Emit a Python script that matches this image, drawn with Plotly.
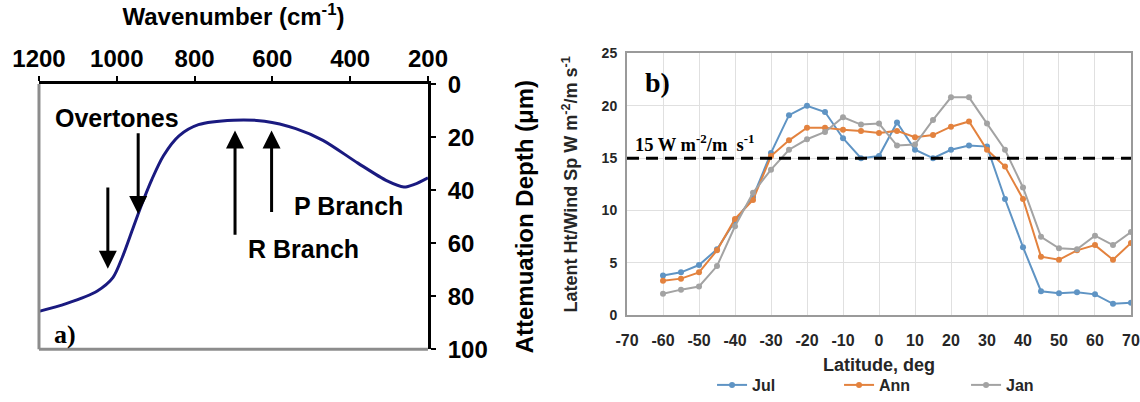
import plotly.graph_objects as go

# ---------- Panel a data ----------
wavenumber = [1200, 1130, 1050, 1010, 985, 960, 935, 910, 880, 840, 790, 700, 620, 540, 470, 380, 305, 262, 235, 200]
atten_depth = [85.7, 82.8, 78.0, 73.0, 65.0, 55.0, 45.0, 36.0, 27.0, 19.5, 15.3, 13.6, 14.0, 16.8, 21.2, 29.8, 36.5, 38.8, 37.8, 35.3]
wn_ticks = [1200, 1000, 800, 600, 400, 200]
depth_ticks = [0, 20, 40, 60, 80, 100]

# arrows: x (wavenumber), tail depth, head depth
arrow_x = [945, 1023, 696, 602]
arrow_tail = [18, 38.4, 57.4, 48.8]
arrow_head = [49, 69.6, 17.5, 17.5]

# ---------- Panel b data ----------
latitude = [-60, -55, -50, -45, -40, -35, -30, -25, -20, -15, -10, -5, 0, 5, 10, 15, 20, 25, 30, 35, 40, 45, 50, 55, 60, 65, 70]
jul = [3.8, 4.1, 4.8, 6.3, 9.0, 11.3, 15.5, 19.1, 20.0, 19.4, 16.9, 15.0, 15.2, 18.4, 15.8, 15.0, 15.8, 16.2, 16.1, 11.1, 6.5, 2.3, 2.1, 2.2, 2.0, 1.1, 1.2]
ann = [3.3, 3.5, 4.1, 6.2, 9.2, 11.0, 15.2, 16.7, 17.9, 17.9, 17.7, 17.6, 17.4, 17.6, 17.0, 17.2, 18.0, 18.5, 15.8, 14.2, 11.1, 5.6, 5.3, 6.2, 6.7, 5.3, 6.9]
jan = [2.05, 2.45, 2.75, 4.7, 8.5, 11.7, 13.9, 15.8, 16.8, 17.5, 18.9, 18.2, 18.3, 16.2, 16.3, 18.65, 20.8, 20.8, 18.3, 15.8, 12.2, 7.5, 6.4, 6.3, 7.6, 6.7, 7.95]
threshold = 15
lat_ticks = list(range(-70, 71, 10))
lat_labels = [str(v) for v in lat_ticks]
val_ticks = [0, 5, 10, 15, 20, 25]

ARIAL = "Liberation Sans"
TIMES = "Liberation Serif"

fig = go.Figure()

fig.add_trace(go.Scatter(x=wavenumber, y=atten_depth, mode="lines",
                         line=dict(color="#1a1a80", width=3, shape="spline", smoothing=0.8),
                         xaxis="x", yaxis="y", showlegend=False))

series = [("Jul", jul, "#5f94c4"), ("Ann", ann, "#e3823e"), ("Jan", jan, "#a3a3a3")]
for name, vals, col in series:
    fig.add_trace(go.Scatter(x=latitude, y=vals, mode="lines+markers", name=name,
                             line=dict(color=col, width=2),
                             marker=dict(color=col, size=6),
                             xaxis="x2", yaxis="y2"))

fig.add_trace(go.Scatter(x=[-70, 70], y=[threshold, threshold], mode="lines",
                         line=dict(color="black", width=3, dash="12px,7px"),
                         xaxis="x2", yaxis="y2", showlegend=False))

annotations = []
for xa, t, h in zip(arrow_x, arrow_tail, arrow_head):
    annotations.append(dict(x=xa, y=h, ax=xa, ay=t, xref="x", yref="y", axref="x", ayref="y",
                            showarrow=True, arrowhead=2, arrowsize=1.2, arrowwidth=3,
                            arrowcolor="black", text=""))

big = dict(family=ARIAL, size=25, color="black", weight="bold")
annotations += [
    dict(x=999, y=12.9, xref="x", yref="y", text="Overtones", showarrow=False, font=big),
    dict(x=403, y=45.9, xref="x", yref="y", text="P Branch", showarrow=False, font=big),
    dict(x=519, y=62.3, xref="x", yref="y", text="R Branch", showarrow=False, font=big),
    dict(x=1133, y=94.5, xref="x", yref="y", text="a)", showarrow=False,
         font=dict(family=TIMES, size=26, color="black", weight="bold")),
    dict(x=-61.4, y=22.2, xref="x2", yref="y2", text="b)", showarrow=False,
         font=dict(family=TIMES, size=28, color="black", weight="bold")),
    dict(x=-68.3, y=16.4, xref="x2", yref="y2", text="15 W m<sup>-2</sup>/m  s<sup>-1</sup>",
         showarrow=False, xanchor="left",
         font=dict(family=TIMES, size=18.5, color="black", weight="bold")),
]

fig.update_layout(
    width=1140, height=402,
    margin=dict(l=0, r=0, t=0, b=0),
    paper_bgcolor="white", plot_bgcolor="white",
    annotations=annotations,
    xaxis=dict(domain=[0.0342, 0.3754], range=[1200, 200], side="top", anchor="y", automargin=False,
               tickvals=wn_ticks, ticks="outside", ticklen=5, tickwidth=2, tickcolor="black",
               showline=True, linecolor="black", linewidth=3, showgrid=False, zeroline=False,
               tickfont=dict(family=ARIAL, size=24, color="black", weight="bold"),
               title=dict(text="Wavenumber (cm<sup>-1</sup>)", standoff=14,
                          font=dict(family=ARIAL, size=24, color="black", weight="bold"))),
    yaxis=dict(domain=[0.1045, 0.7843], range=[100, 0], side="right", anchor="x", automargin=False,
               tickvals=depth_ticks, ticks="outside", ticklen=5, tickwidth=2, tickcolor="black",
               ticklabelstandoff=7,
               showline=True, linecolor="black", linewidth=3, showgrid=False, zeroline=False,
               tickfont=dict(family=ARIAL, size=24, color="black", weight="bold"),
               title=dict(text="Attemuation Depth (μm)", standoff=30,
                          font=dict(family=ARIAL, size=24, color="black", weight="bold"))),
    xaxis2=dict(domain=[0.55, 0.9921], range=[-70, 70], anchor="y2", automargin=False,
                tickvals=lat_ticks, ticktext=lat_labels, ticks="", showline=True,
                linecolor="#9a9a9a", linewidth=2, ticklabelstandoff=9,
                mirror=True, showgrid=True, gridcolor="#e0e0e0", gridwidth=1, zeroline=False,
                tickfont=dict(family=ARIAL, size=16, color="#262626", weight="bold"),
                title=dict(text="Latitude, deg", standoff=11,
                           font=dict(family=ARIAL, size=18, color="#262626", weight="bold"))),
    yaxis2=dict(domain=[0.1915, 0.8632], range=[0, 25], anchor="x2", automargin=False,
                tickvals=val_ticks, ticks="", showline=True, linecolor="#9a9a9a", linewidth=2,
                ticklabelstandoff=5,
                mirror=True, showgrid=True, gridcolor="#e0e0e0", gridwidth=1, zeroline=False,
                tickfont=dict(family=ARIAL, size=14, color="#262626", weight="bold"),
                title=dict(text="Latent Ht/Wind Sp W m<sup>-2</sup>/m s<sup>-1</sup>", standoff=19,
                           font=dict(family=ARIAL, size=18, color="#262626", weight="bold"))),
    legend=dict(orientation="h", x=0.6246, y=0.012, xanchor="left", yanchor="middle",
                entrywidth=82, entrywidthmode="pixels", bgcolor="rgba(0,0,0,0)",
                font=dict(family=ARIAL, size=16, color="#262626", weight="bold")),
)

# gray left and bottom frame of panel a
fig.add_shape(type="line", xref="x domain", yref="y domain", x0=0, x1=0, y0=0, y1=1,
              line=dict(color="#8c8c8c", width=3))
fig.add_shape(type="line", xref="x domain", yref="y domain", x0=0, x1=1, y0=0, y1=0,
              line=dict(color="#8c8c8c", width=3))

fig.write_html("out.html", config={"displayModeBar": False},
               post_script="document.body.style.margin='0';document.body.style.overflow='hidden';")
